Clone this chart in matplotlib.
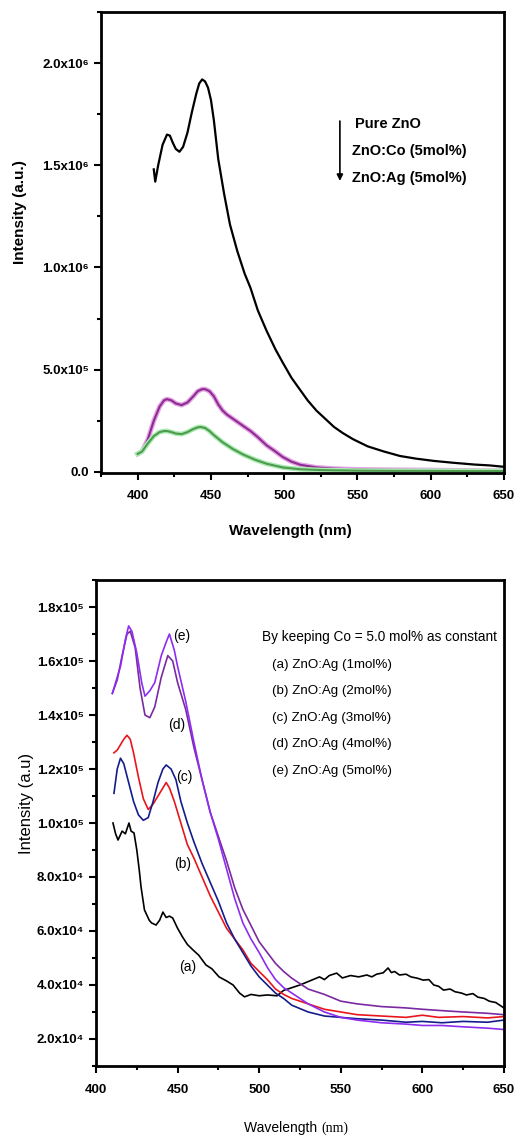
import numpy as np
import matplotlib
matplotlib.use('Agg')
import matplotlib.pyplot as plt
from matplotlib.ticker import MultipleLocator, FuncFormatter
import matplotlib.patheffects as pe

plt.rcParams['font.family'] = ['Liberation Sans', 'DejaVu Sans']

# ---- top panel data (PL spectra) ----
wl_pure = [411, 412, 414, 417, 420, 422, 424, 426, 428.5, 431, 434, 437, 440, 442, 444, 446, 448, 450, 452,
           455, 459, 463, 468, 473, 477, 482, 488, 494, 499, 505, 511, 516, 522, 528, 534, 540, 547, 557, 568,
           579, 590, 602, 615, 630, 640, 650]
int_pure = [1.48e6, 1.42e6, 1.50e6, 1.60e6, 1.65e6, 1.645e6, 1.61e6, 1.58e6, 1.566e6, 1.59e6, 1.66e6, 1.76e6,
            1.85e6, 1.90e6, 1.92e6, 1.91e6, 1.88e6, 1.82e6, 1.72e6, 1.53e6, 1.36e6, 1.21e6, 1.08e6, 0.97e6,
            0.90e6, 0.79e6, 0.69e6, 0.60e6, 0.535e6, 0.46e6, 0.40e6, 0.35e6, 0.30e6, 0.26e6, 0.22e6, 0.19e6,
            0.16e6, 0.125e6, 0.10e6, 0.078e6, 0.065e6, 0.054e6, 0.045e6, 0.036e6, 0.032e6, 0.025e6]

wl_co = [400, 403, 407, 411, 415, 418, 420, 423, 426, 430, 434, 438, 441, 444, 446, 449, 452, 455, 458, 461,
         465, 469, 473, 477, 482, 488, 494, 499, 505, 511, 522, 534, 550, 575, 600, 625, 650]
int_co = [0.088e6, 0.10e6, 0.16e6, 0.25e6, 0.32e6, 0.35e6, 0.356e6, 0.35e6, 0.335e6, 0.327e6, 0.34e6, 0.37e6,
          0.395e6, 0.405e6, 0.405e6, 0.395e6, 0.37e6, 0.33e6, 0.30e6, 0.28e6, 0.26e6, 0.24e6, 0.22e6, 0.20e6,
          0.17e6, 0.13e6, 0.10e6, 0.073e6, 0.05e6, 0.035e6, 0.022e6, 0.016e6, 0.012e6, 0.01e6, 0.009e6,
          0.007e6, 0.005e6]

wl_ag = [400, 403, 407, 411, 415, 418, 420, 423, 426, 430, 434, 438, 441, 443, 446, 449, 452, 458, 465, 472,
         480, 488, 499, 511, 525, 550, 575, 600, 625, 650]
int_ag = [0.088e6, 0.10e6, 0.14e6, 0.175e6, 0.195e6, 0.20e6, 0.20e6, 0.195e6, 0.188e6, 0.185e6, 0.195e6,
          0.21e6, 0.218e6, 0.22e6, 0.215e6, 0.20e6, 0.18e6, 0.145e6, 0.112e6, 0.085e6, 0.06e6, 0.04e6,
          0.022e6, 0.013e6, 0.009e6, 0.006e6, 0.005e6, 0.005e6, 0.004e6, 0.004e6]

# ---- bottom panel data (Co fixed, Ag varied) ----
wl_a = [410.4, 412, 413.5, 416, 418, 420.2, 421.5, 423.3, 425, 426.5, 427.6, 429.7, 432.6, 434, 436.8, 439,
        441, 443, 445, 447, 450, 453, 456, 459.4, 463, 467.4, 471, 475.4, 480, 484, 488, 491, 495, 500, 505, 511,
        515, 520, 525, 531, 537, 540, 543, 547.5, 551, 556, 561, 566, 569, 572, 576, 579, 581, 583, 586, 590,
        593, 597, 600.5, 604, 607, 610, 613, 617, 620, 624, 627, 631, 634, 638, 641, 645, 647.5, 650]
int_a = [100e3, 96e3, 93.7e3, 97e3, 96e3, 100e3, 97e3, 96.3e3, 90e3, 82.6e3, 76.3e3, 67.8e3, 64e3, 63e3,
         62.2e3, 64e3, 67e3, 65e3, 65.5e3, 64.8e3, 61e3, 57.8e3, 55e3, 53e3, 51e3, 47.4e3, 46e3, 43e3, 41.5e3,
         40e3, 37e3, 35.6e3, 36.5e3, 36e3, 36.3e3, 36e3, 38e3, 39e3, 40e3, 41.5e3, 43e3, 42e3, 43.5e3, 44.4e3,
         42.6e3, 43.5e3, 43e3, 43.7e3, 43e3, 44e3, 44.5e3, 46.3e3, 44.6e3, 45e3, 43.7e3, 44e3, 43e3, 42.5e3,
         41.8e3, 42e3, 40e3, 39.5e3, 38.1e3, 38.5e3, 37.5e3, 37e3, 36.3e3, 36.8e3, 35.5e3, 35e3, 34e3, 33.5e3,
         32.5e3, 31.5e3]

wl_b = [411, 413, 415, 417, 419, 421, 423, 426, 429, 432, 435, 438, 441, 443, 445, 448, 452, 456, 460, 465, 470,
        475, 480, 485, 490, 495, 500, 505, 510, 515, 520, 530, 540, 550, 560, 575, 590, 600, 610, 625, 640, 650]
int_b = [126e3, 127e3, 129e3, 131e3, 132.5e3, 131e3, 126e3, 117e3, 109e3, 105e3, 107e3, 110e3, 113e3, 115e3,
         113e3, 108e3, 100e3, 92e3, 87e3, 80e3, 73e3, 67e3, 61e3, 57e3, 53e3, 48e3, 45e3, 42e3, 38.5e3, 36.5e3,
         35e3, 33e3, 31e3, 30e3, 29e3, 28.5e3, 28e3, 28.8e3, 28e3, 28.3e3, 27.8e3, 28.3e3]

wl_c = [411, 413, 415, 417, 420, 423, 426, 429, 432, 435, 438, 441, 443, 446, 449, 452, 456, 460, 465, 470, 475,
        480, 485, 490, 495, 500, 505, 510, 515, 520, 530, 540, 550, 560, 575, 590, 600, 612, 625, 640, 650]
int_c = [111e3, 120e3, 124e3, 122e3, 115e3, 108e3, 103e3, 101e3, 102e3, 108e3, 115e3, 120e3, 121.5e3, 120e3,
         116e3, 108e3, 100e3, 93e3, 85e3, 78e3, 71e3, 63e3, 57e3, 52e3, 47e3, 43e3, 40e3, 37e3, 35e3, 32.5e3,
         30e3, 28.5e3, 28e3, 27.5e3, 27e3, 26.2e3, 26.5e3, 26e3, 26.5e3, 26.2e3, 27e3]

wl_d = [410, 413, 416, 419, 421, 424, 427, 430, 433, 436, 440, 444, 447, 450, 455, 460, 465, 470, 475, 480, 485,
        490, 495, 500, 505, 510, 515, 520, 525, 530, 540, 550, 560, 575, 590, 600, 612, 625, 640, 650]
int_d = [148e3, 153e3, 162e3, 170e3, 171e3, 165e3, 150e3, 140e3, 139e3, 143e3, 154e3, 162e3, 160e3, 152e3,
         142e3, 128e3, 116e3, 104e3, 95e3, 86e3, 76e3, 68e3, 62e3, 56e3, 52e3, 48e3, 45e3, 42.5e3, 40.5e3,
         38.5e3, 36.5e3, 34e3, 33e3, 32e3, 31.5e3, 31e3, 30.5e3, 30e3, 29.5e3, 29e3]

wl_e = [410, 412, 415, 418, 420, 422, 425, 428, 430, 433, 436, 440, 443, 445, 448, 450, 455, 460, 465, 470, 475,
        480, 485, 490, 495, 500, 505, 510, 515, 520, 525, 530, 540, 550, 560, 575, 590, 600, 612, 625, 640, 650]
int_e = [148e3, 152e3, 158e3, 168e3, 173e3, 171e3, 163e3, 152e3, 147e3, 149e3, 152e3, 162e3, 167e3, 170e3,
         164e3, 158e3, 145e3, 130e3, 116e3, 104e3, 94e3, 83e3, 72e3, 63e3, 57e3, 52e3, 46.5e3, 42e3, 39e3, 37e3,
         35e3, 33e3, 30e3, 28e3, 27e3, 26e3, 25.5e3, 25e3, 25e3, 24.5e3, 24e3, 23.5e3]

top_legend = ['Pure ZnO', 'ZnO:Co (5mol%)', 'ZnO:Ag (5mol%)']
bottom_legend = ['By keeping Co = 5.0 mol% as constant', '(a) ZnO:Ag (1mol%)', '(b) ZnO:Ag (2mol%)',
                 '(c) ZnO:Ag (3mol%)', '(d) ZnO:Ag (4mol%)', '(e) ZnO:Ag (5mol%)']
curve_tags = ['(a)', '(b)', '(c)', '(d)', '(e)']
tag_pos = [(456.4, 46.7e3), (453.3, 84.8e3), (453.9, 117e3), (449.6, 136.3e3), (452.7, 169.3e3)]

SUP = str.maketrans('0123456789', '⁰¹²³⁴⁵⁶⁷⁸⁹')


def sci_fmt(v, pos):
    if v == 0:
        return '0.0'
    e = int(np.floor(np.log10(abs(v)) + 1e-9))
    m = v / 10 ** e
    return '%.1fx10%s' % (m, str(e).translate(SUP))


fig = plt.figure(figsize=(5.17, 11.38), dpi=100)

# ================= top =================
ax1 = fig.add_axes([0.1954, 0.5844, 0.7795, 0.4051])
ax1.plot(wl_pure, int_pure, color='black', lw=1.6)
ax1.plot(wl_co, int_co, color='#8a2d8e', lw=1.5,
         path_effects=[pe.Stroke(linewidth=3.5, foreground='#e6a0e6'), pe.Normal()])
ax1.plot(wl_ag, int_ag, color='#4f9a4f', lw=1.5,
         path_effects=[pe.Stroke(linewidth=3.5, foreground='#a8ecb0'), pe.Normal()])
ax1.set_xlim(375, 650)
ax1.set_ylim(-5e3, 2.25e6)
ax1.xaxis.set_major_locator(MultipleLocator(50))
ax1.xaxis.set_minor_locator(MultipleLocator(25))
ax1.yaxis.set_major_locator(MultipleLocator(5e5))
ax1.yaxis.set_minor_locator(MultipleLocator(2.5e5))
ax1.yaxis.set_major_formatter(FuncFormatter(sci_fmt))
ax1.tick_params(which='both', direction='out', width=1.5, labelsize=9.5)
ax1.tick_params(which='major', length=5)
ax1.tick_params(which='minor', length=3)
ax1.tick_params(axis='x', which='major', pad=7)
for lab in ax1.get_xticklabels() + ax1.get_yticklabels():
    lab.set_fontweight('bold')
for s in ax1.spines.values():
    s.set_linewidth(2)
ax1.set_xlabel('Wavelength (nm)', fontsize=11, fontweight='bold')
ax1.xaxis.set_label_coords(0.47, -0.11)
ax1.set_ylabel('Intensity (a.u.)', fontsize=11, fontweight='bold')
ax1.yaxis.set_label_coords(-0.183, 0.566)

ax1.annotate('', xy=(538, 1.41e6), xytext=(538, 1.73e6),
             arrowprops=dict(arrowstyle='-|>', color='black', lw=1.2, mutation_scale=9))
for i, t in enumerate(top_legend):
    ax1.text(548 if i == 0 else 546, 1.70e6 - i * 0.13e6, t, fontsize=10.5, fontweight='bold', va='center')

# ================= bottom =================
ax2 = fig.add_axes([0.1857, 0.0633, 0.789, 0.4270])
ax2.plot(wl_a, int_a, color='black', lw=1.2)
ax2.plot(wl_b, int_b, color='#e8161c', lw=1.2)
ax2.plot(wl_c, int_c, color='#141c8c', lw=1.2)
ax2.plot(wl_d, int_d, color='#7a2aa0', lw=1.2)
ax2.plot(wl_e, int_e, color='#8e2cf0', lw=1.2)
ax2.set_xlim(400, 650)
ax2.set_ylim(1e4, 1.9e5)
ax2.xaxis.set_major_locator(MultipleLocator(50))
ax2.xaxis.set_minor_locator(MultipleLocator(25))
ax2.yaxis.set_major_locator(MultipleLocator(2e4))
ax2.yaxis.set_minor_locator(MultipleLocator(1e4))
ax2.yaxis.set_major_formatter(FuncFormatter(sci_fmt))
ax2.tick_params(which='both', direction='out', width=1.5, labelsize=9.5)
ax2.tick_params(which='major', length=5)
ax2.tick_params(which='minor', length=3)
ax2.tick_params(axis='x', which='major', pad=8)
for lab in ax2.get_xticklabels() + ax2.get_yticklabels():
    lab.set_fontweight('bold')
for s in ax2.spines.values():
    s.set_linewidth(2)

for t, (x, y) in zip(curve_tags, tag_pos):
    ax2.text(x, y, t, fontsize=10, ha='center', va='center')

ax2.text(0.407, 0.883, bottom_legend[0], transform=ax2.transAxes, fontsize=9.8, va='center')
for i, t in enumerate(bottom_legend[1:]):
    ax2.text(0.432, 0.826 - i * 0.0545, t, transform=ax2.transAxes, fontsize=9.6, va='center')

ax2.set_ylabel('Intensity (a.u)', fontsize=12)
ax2.yaxis.set_label_coords(-0.152, 0.541)
fig.text(0.621, 0.003, 'Wavelength ', fontsize=10, ha='right', va='bottom')
fig.text(0.621, 0.003, '(nm)', fontsize=10, family=['Liberation Serif', 'DejaVu Serif'], ha='left',
         va='bottom')

fig.savefig('out.png', dpi=100)
